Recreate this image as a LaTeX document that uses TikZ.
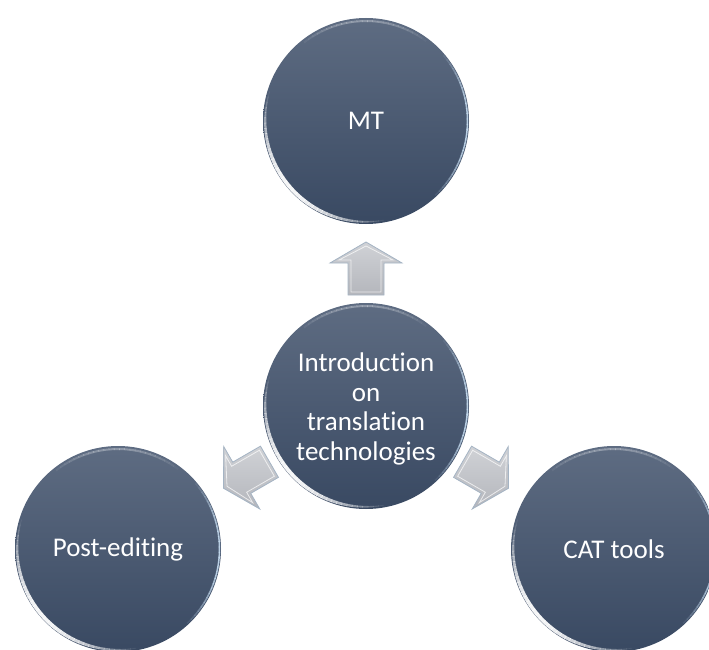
\documentclass[tikz,border=0pt]{standalone}
\usepackage{fontspec}
\setmainfont{Carlito}[Ligatures={NoCommon,NoContextual}]
\begin{document}
\begin{tikzpicture}[x=1pt,y=-1pt,
  ball/.style={circle, minimum size=206pt, inner sep=0pt, text=white,
    top color=ballTop, bottom color=ballBot,
    font=\fontsize{27}{29.5}\selectfont, align=center},
  balltext/.style={text=white, font=\fontsize{27}{29.5}\selectfont, align=center, inner sep=0pt},
  arrowfill/.style={top color=arrTop, bottom color=arrBot, draw=arrEdge, line width=0.8pt, line join=miter},
  arrowinner/.style={draw=white, line width=0.8pt, opacity=0.7}
]
\definecolor{ballTop}{RGB}{94,108,130}
\definecolor{ballBot}{RGB}{57,73,98}
\definecolor{arrTop}{RGB}{208,210,214}
\definecolor{arrBot}{RGB}{180,182,188}
\definecolor{arrEdge}{RGB}{165,180,196}
\definecolor{rimBlue}{RGB}{205,228,248}
\clip (0,0) rectangle (709,650);
\useasboundingbox (0,0) rectangle (709,650);

% circles
\node[ball] (mt) at (366,121) {MT};
\node[ball] (intro) at (366,406) {};
\node[balltext] (introtext) at (366,409) {Introduction\\on\\translation\\technologies};
\node[ball] (pe) at (118,549) {Post-editing};
\node[ball] (cat) at (614,549) {CAT tools};

% gloss highlights (local scope in canvas orientation), tapered arcs
\foreach \n in {mt,intro,pe,cat}{
  \begin{scope}[shift={(\n.center)}, x=1pt, y=1pt]
    \foreach \a in {160,163,...,280}{
      \pgfmathsetmacro{\op}{0.95*sin((\a-160)*1.5)}
      \pgfmathsetmacro{\lw}{0.6+3.2*sin((\a-160)*1.5)}
      \draw[white, opacity=\op, line width=\lw pt] (\a:100.8) arc[start angle=\a, end angle=\a+3.3, radius=100.8];
    }
    \foreach \a in {-50,-47,...,40}{
      \pgfmathsetmacro{\op}{0.85*sin((\a+50)*2)}
      \draw[rimBlue, opacity=\op, line width=1.5pt] (\a:101.5) arc[start angle=\a, end angle=\a+3.3, radius=101.5];
    }
    \foreach \a in {50,53,...,127}{
      \pgfmathsetmacro{\op}{0.3*sin((\a-50)*2.25)}
      \draw[white, opacity=\op, line width=2pt] (\a:100) arc[start angle=\a, end angle=\a+3.3, radius=100];
    }
  \end{scope}
}

% block arrows (local frame: pointing +x)
\foreach \cx/\cy/\ang/\nm in {366/268.5/90/aup, 246.5/475/210/aleft, 485.5/475/-30/aright}{
  \begin{scope}[shift={(\cx,\cy)}, x=1pt, y=1pt, rotate=\ang]
    \path[arrowfill] (-26.5,-18) -- (5.5,-18) -- (5.5,-36) -- (26.5,0) -- (5.5,36) -- (5.5,18) -- (-26.5,18) -- cycle;
    \path[arrowinner] (-23.5,-15) -- (8.5,-15) -- (8.5,-27) -- (22.5,0) -- (8.5,27) -- (8.5,15) -- (-23.5,15) -- cycle;
    \coordinate (\nm) at (0,0);
  \end{scope}
}
\end{tikzpicture}
\end{document}
